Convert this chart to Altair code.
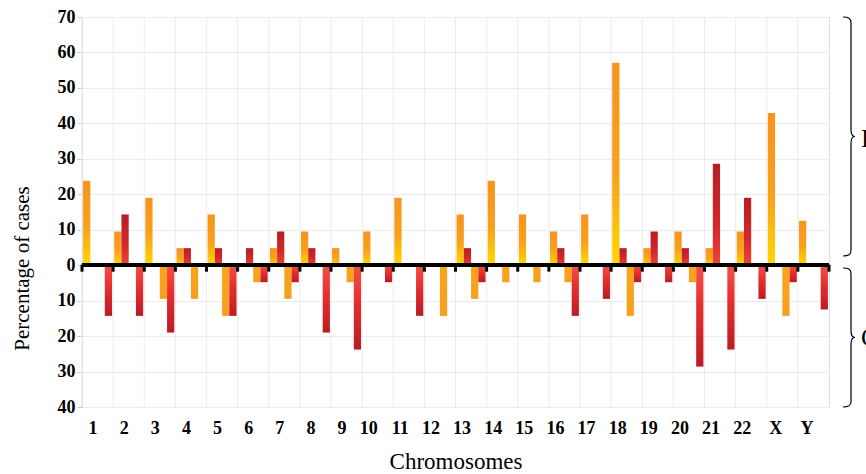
import altair as alt
import pandas as pd

# Chromosomes on the x axis
chromosomes = [str(i) for i in range(1, 23)] + ["X", "Y"]

# Percentage of cases per chromosome (losses are drawn below the zero line)
gain_orange = [23.8, 9.5, 19.0, 4.8, 14.3, 0, 4.8, 9.5, 4.8, 9.5, 19.0, 0,
               14.3, 23.8, 14.3, 9.5, 14.3, 57.1, 4.8, 9.5, 4.8, 9.5, 42.9, 12.5]
gain_red = [0, 14.3, 0, 4.8, 4.8, 4.8, 9.5, 4.8, 0, 0, 0, 0,
            4.8, 0, 0, 4.8, 0, 4.8, 9.5, 4.8, 28.6, 19.0, 0, 0]
loss_orange = [0, 0, 9.5, 9.5, 14.3, 4.8, 9.5, 0, 4.8, 0, 0, 14.3,
               9.5, 4.8, 4.8, 4.8, 0, 14.3, 0, 4.8, 0, 0, 14.3, 0]
loss_red = [14.3, 14.3, 19.0, 0, 14.3, 4.8, 4.8, 19.0, 23.8, 4.8, 14.3, 0,
            4.8, 0, 0, 14.3, 9.5, 4.8, 4.8, 28.6, 23.8, 9.5, 4.8, 12.5]

y_ticks = [-40, -30, -20, -10, 0, 10, 20, 30, 40, 50, 60, 70]

series_order = ["gain_orange", "gain_red", "loss_orange", "loss_red"]
series_values = {
    "gain_orange": (gain_orange, 1),
    "gain_red": (gain_red, 1),
    "loss_orange": (loss_orange, -1),
    "loss_red": (loss_red, -1),
}

rows = []
for name in series_order:
    vals, sign = series_values[name]
    for ch, v in zip(chromosomes, vals):
        if v > 0:
            rows.append({"chrom": ch, "series": name, "value": sign * v})
bars_df = pd.DataFrame(rows)
chrom_df = pd.DataFrame({"chrom": chromosomes})

SERIF = "Liberation Serif"
W, H = 747, 390

x_scale = alt.Scale(domain=chromosomes, paddingInner=0, paddingOuter=0)
y_scale = alt.Scale(domain=[-40, 70], nice=False)

x_enc = alt.X(
    "chrom:N", scale=x_scale, sort=chromosomes,
    axis=alt.Axis(
        labelAngle=0, labelFont=SERIF, labelFontWeight="bold", labelFontSize=18,
        labelColor="black", labelPadding=21, domain=False, ticks=False, grid=False,
        title="Chromosomes", titleFont=SERIF, titleFontWeight="normal",
        titleFontSize=23, titleColor="black", titleY=61, titleBaseline="alphabetic",
    ),
)
y_axis = alt.Axis(
    values=y_ticks, labelExpr="abs(datum.value)", labelOverlap=False,
    labelFont=SERIF, labelFontWeight="bold", labelFontSize=18, labelColor="black",
    labelPadding=2, tickSize=5, tickColor="#c8c8c8", domainColor="#d0d0d0",
    gridColor="#ececec", title="Percentage of cases", titleFont=SERIF,
    titleFontWeight="normal", titleFontSize=21, titleColor="black",
    titleAngle=-90, titleX=-60, titleY=251, titleAlign="center",
    titleBaseline="middle",
)
y_enc = alt.Y("value:Q", scale=y_scale, axis=y_axis)
xoff = alt.XOffset("series:N", scale=alt.Scale(domain=series_order,
                                                paddingOuter=0.15, paddingInner=0))


def y_at(v):
    return alt.YDatum(v, scale=y_scale, axis=y_axis)


def grad(stops):
    return alt.Gradient(
        gradient="linear",
        stops=[alt.GradientStop(offset=o, color=c) for o, c in stops],
        x1=0, x2=0, y1=0, y2=1,
    )


fills = {
    "gain_orange": grad([(0, "#f7931e"), (0.55, "#f8a11b"), (1, "#ffd800")]),
    "gain_red": grad([(0, "#b81d24"), (0.6, "#d3282b"), (1, "#f0423b")]),
    "loss_orange": grad([(0, "#f8a61b"), (1, "#f79f1d")]),
    "loss_red": grad([(0, "#f25148"), (0.4, "#e8302f"), (1, "#b91c24")]),
}

base_bars = alt.Chart(bars_df)
bar_layers = [
    base_bars.transform_filter(alt.datum.series == name)
    .mark_bar(fill=fills[name], stroke=None)
    .encode(x=x_enc, xOffset=xoff, y=y_enc)
    for name in series_order
]

# vertical gridlines at the band boundaries
vgrid = alt.Chart(chrom_df).mark_rule(color="#ececec", strokeWidth=1).encode(
    x=alt.X("chrom:N", bandPosition=0, sort=chromosomes)
)

# thick zero line with small ticks hanging below at each boundary
zero_line = alt.Chart(chrom_df).mark_rule(color="black", strokeWidth=3).encode(
    y=y_at(0)
)
zero_ticks = alt.Chart(chrom_df).mark_tick(
    orient="vertical", color="black", thickness=3, size=7, yOffset=3, opacity=1
).encode(x=alt.X("chrom:N", bandPosition=0, sort=chromosomes), y=y_at(0))
end_tick = alt.Chart(chrom_df).transform_filter(alt.datum.chrom == "Y").mark_tick(
    orient="vertical", color="black", thickness=3, size=7, yOffset=3, opacity=1
).encode(x=alt.X("chrom:N", bandPosition=1, sort=chromosomes), y=y_at(0))

# curly braces on the right-hand side marking the two halves
upper_brace = ("M -0.067 -1 C -0.02 -1 0 -0.99 0 -0.95 L 0 -0.06 "
               "C 0 -0.02 0.01 0 0.033 0 C 0.01 0 0 0.02 0 0.06 "
               "L 0 0.95 C 0 0.99 -0.02 1 -0.067 1")
lower_brace = ("M -0.115 -1 C -0.03 -1 0 -0.98 0 -0.92 L 0 -0.1 "
               "C 0 -0.03 0.02 0 0.058 0 C 0.02 0 0 0.03 0 0.1 "
               "L 0 0.92 C 0 0.98 -0.03 1 -0.115 1")

one = alt.Chart(chrom_df).transform_filter(alt.datum.chrom == "1")
brace_up = one.mark_point(
    shape=upper_brace, size=239 ** 2, filled=False, color="black",
    strokeWidth=1.2, opacity=1
).encode(x=alt.value(769), y=y_at(36.3))
brace_down = one.mark_point(
    shape=lower_brace, size=139 ** 2, filled=False, color="black",
    strokeWidth=1.2, opacity=1
).encode(x=alt.value(769), y=y_at(-20.4))

label_up = one.mark_text(
    text="Increase", align="left", baseline="middle", font=SERIF, fontSize=25,
    color="black"
).encode(x=alt.value(779), y=y_at(35.5))
label_down = one.mark_text(
    text="Copy loss", align="left", baseline="middle", font=SERIF, fontSize=25,
    color="black"
).encode(x=alt.value(779), y=y_at(-20.4))

chart = alt.layer(
    vgrid, *bar_layers, zero_line, zero_ticks, end_tick,
    brace_up, brace_down, label_up, label_down,
).properties(
    width=W, height=H,
    autosize=alt.AutoSizeParams(type="none"),
    padding={"left": 82, "top": 17, "right": 866 - 82 - W, "bottom": 474 - 17 - H},
).configure_view(stroke="#ececec").configure(background="white")

chart.save("out.html", embed_options={"renderer": "svg", "actions": False})
